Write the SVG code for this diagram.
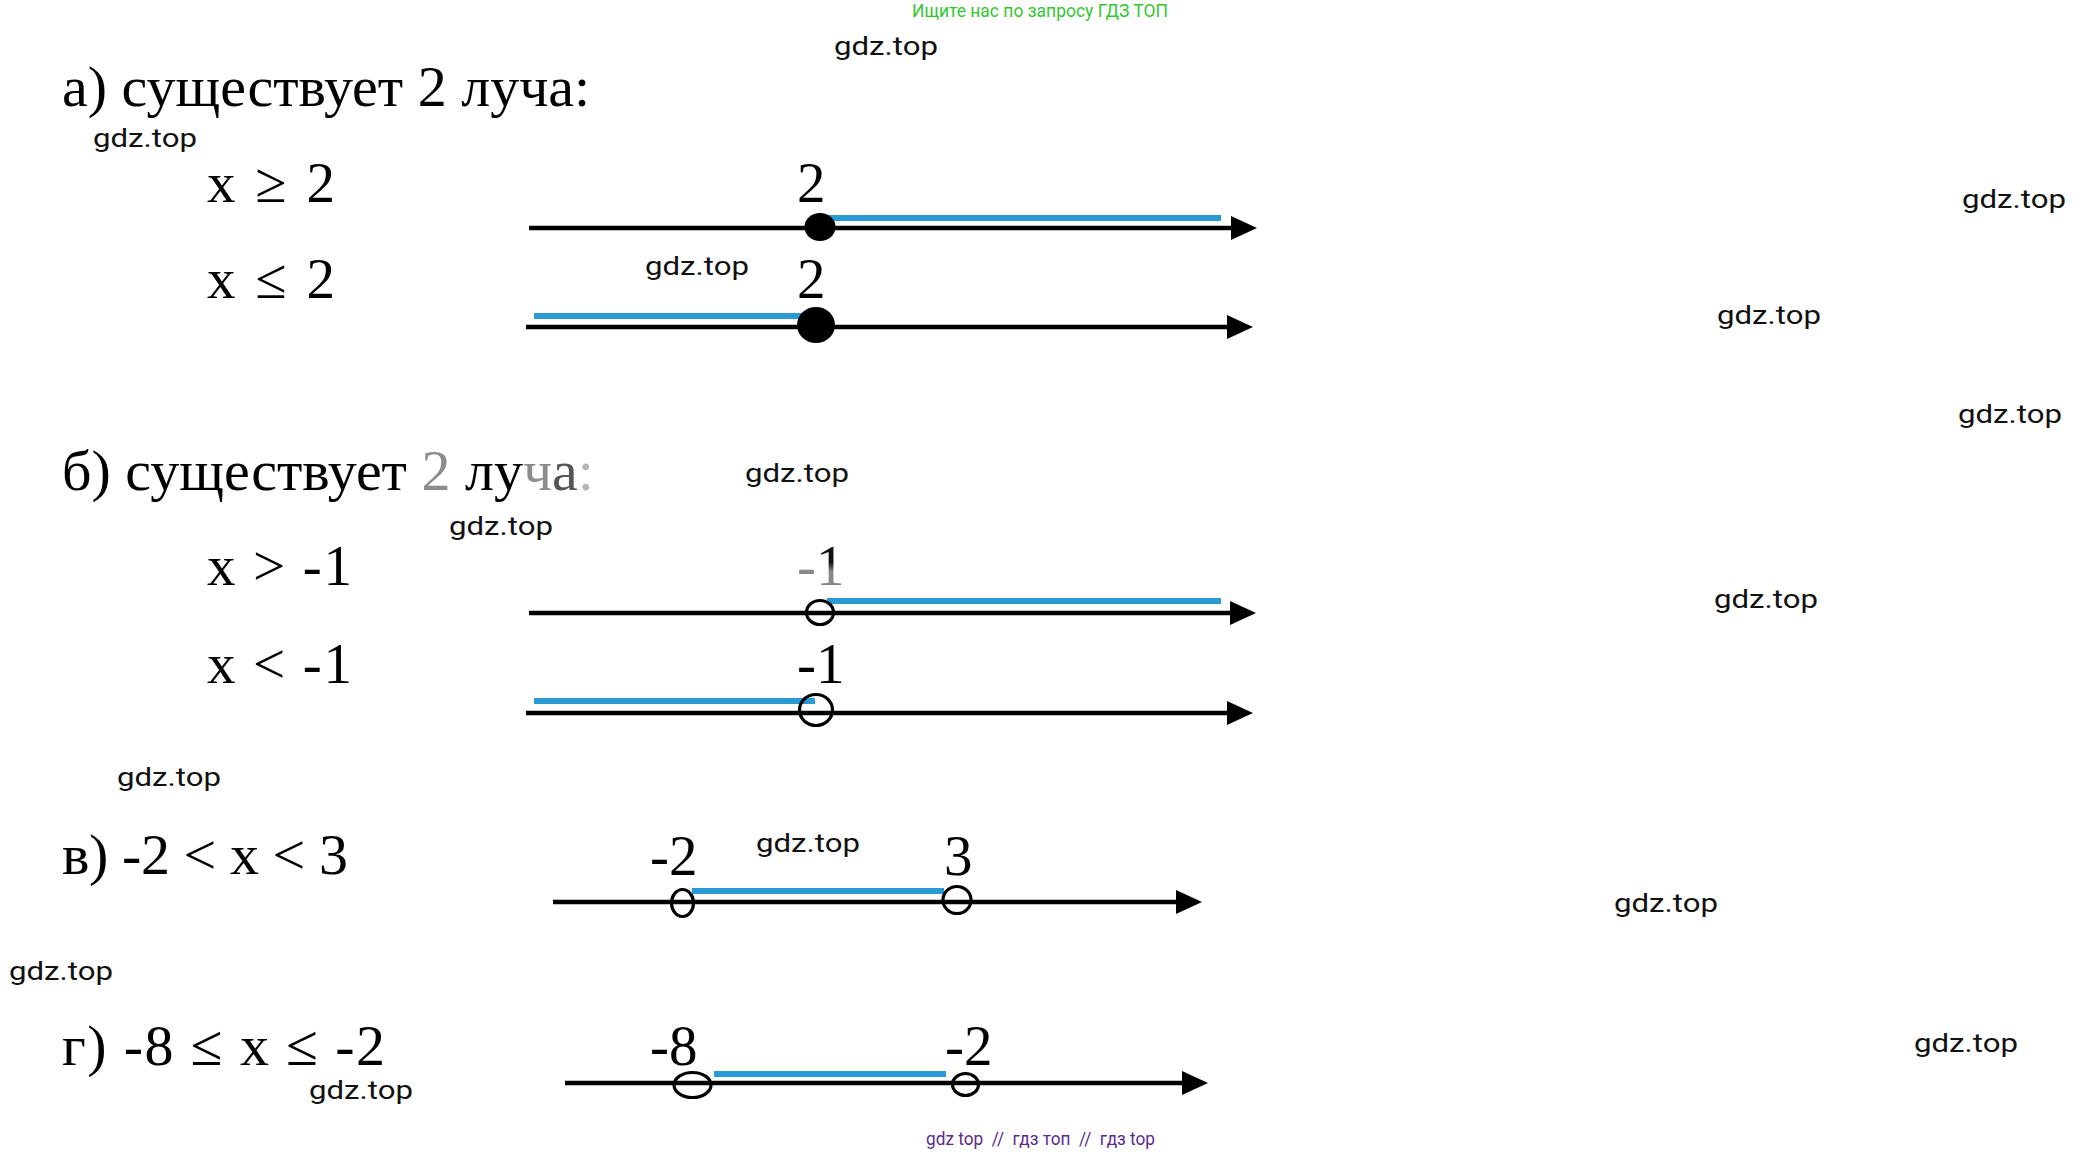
<svg xmlns="http://www.w3.org/2000/svg" width="2082" height="1155" viewBox="0 0 2082 1155">
<style>
.bg{fill:#ffffff}
.serif{font-family:"Liberation Serif","Times New Roman",serif;fill:#000}
.h{font-size:58px}
.eq{font-size:57px}
.wm{font-family:Roboto,"Liberation Sans",sans-serif;font-size:26px;fill:#111}
.axis{stroke:#000;stroke-width:4.5;fill:none}
.ray{stroke:#2a9ad4;stroke-width:6;fill:none}
.open{fill:none;stroke:#000;stroke-width:3.2}
.closed{fill:#000}
</style>
<defs>
<marker id="arrow" markerUnits="userSpaceOnUse" markerWidth="26" markerHeight="24" refX="0" refY="12" orient="auto" overflow="visible">
<path d="M0,0 L26,12 L0,24 Z" fill="#000"/>
</marker>
<linearGradient id="fade" x1="0" y1="0" x2="0" y2="1">
<stop offset="0.45" stop-color="#111"/>
<stop offset="0.6" stop-color="#8a8a8a"/>
</linearGradient>
</defs>
<rect class="bg" x="0" y="0" width="2082" height="1155"/>

<g id="header">
<text x="912" y="17" font-family="Roboto,'Liberation Sans',sans-serif" font-size="19" fill="#33c633" textLength="256" lengthAdjust="spacingAndGlyphs">Ищите нас по запросу ГДЗ ТОП</text>
</g>

<g id="section-a">
<text class="serif h" x="62" y="106">а) существует 2 луча:</text>
<text class="serif eq" x="207" y="202" textLength="128">x ≥ 2</text>
<text class="serif eq" x="207" y="298" textLength="128">x ≤ 2</text>
</g>

<g id="section-b">
<text class="serif h" x="62" y="490">б) существует <tspan fill="#8c8c8c">2</tspan> лу<tspan fill="#8c8c8c">ч</tspan><tspan fill="#555">а</tspan><tspan fill="#b5b5b5">:</tspan></text>
<text class="serif eq" x="207" y="585" textLength="145">x &gt; -1</text>
<text class="serif eq" x="207" y="683" textLength="145">x &lt; -1</text>
</g>

<g id="section-v">
<text class="serif h" x="62" y="874" textLength="286">в) -2 &lt; x &lt; 3</text>
</g>

<g id="section-g">
<text class="serif h" x="62" y="1065" textLength="323">г) -8 ≤ x ≤ -2</text>
</g>

<g id="connectors">
<line class="axis" x1="529" y1="228" x2="1231" y2="228" marker-end="url(#arrow)"/>
<line class="axis" x1="526" y1="327" x2="1227" y2="327" marker-end="url(#arrow)"/>
<line class="axis" x1="529" y1="613" x2="1230" y2="613" marker-end="url(#arrow)"/>
<line class="axis" x1="526" y1="713" x2="1227" y2="713" marker-end="url(#arrow)"/>
<line class="axis" x1="553" y1="902" x2="1176" y2="902" marker-end="url(#arrow)"/>
<line class="axis" x1="565" y1="1083" x2="1182" y2="1083" marker-end="url(#arrow)"/>
<line class="ray" x1="827" y1="218" x2="1221" y2="218"/>
<line class="ray" x1="534" y1="316" x2="815" y2="316"/>
<line class="ray" x1="827" y1="601" x2="1221" y2="601"/>
<line class="ray" x1="534" y1="701" x2="815" y2="701"/>
<line class="ray" x1="692" y1="891" x2="944" y2="891"/>
<line class="ray" x1="714" y1="1074" x2="946" y2="1074"/>
</g>

<g id="line-a1">
<ellipse class="closed" cx="820" cy="227" rx="15.5" ry="14"/>
<text class="serif eq" x="797" y="202">2</text>
</g>
<g id="line-a2">
<ellipse class="closed" cx="816" cy="325" rx="19" ry="18"/>
<text class="serif eq" x="797" y="298">2</text>
</g>
<g id="line-b1">
<ellipse class="open" cx="820" cy="612.5" rx="13.5" ry="12"/>
<text class="serif eq" x="797" y="585"><tspan fill="#8a8a8a">-</tspan><tspan fill="url(#fade)">1</tspan></text>
</g>
<g id="line-b2">
<ellipse class="open" cx="816" cy="710" rx="16.5" ry="15.5"/>
<text class="serif eq" x="797" y="683">-1</text>
</g>
<g id="line-v">
<ellipse class="open" cx="682.5" cy="903" rx="11" ry="13.5"/>
<ellipse class="open" cx="957" cy="900" rx="14" ry="13.5"/>
<text class="serif eq" x="650" y="875">-2</text>
<text class="serif eq" x="944" y="875">3</text>
</g>
<g id="line-g">
<ellipse class="open" cx="692.5" cy="1085" rx="18.5" ry="12.5"/>
<ellipse class="open" cx="965.5" cy="1084.5" rx="13" ry="11"/>
<text class="serif eq" x="650" y="1065">-8</text>
<text class="serif eq" x="945" y="1065">-2</text>
</g>

<g id="watermarks">
<text class="wm" x="834" y="55" textLength="104" lengthAdjust="spacingAndGlyphs">gdz.top</text>
<text class="wm" x="93" y="147" textLength="104" lengthAdjust="spacingAndGlyphs">gdz.top</text>
<text class="wm" x="1962" y="208" textLength="104" lengthAdjust="spacingAndGlyphs">gdz.top</text>
<text class="wm" x="645" y="275" textLength="104" lengthAdjust="spacingAndGlyphs">gdz.top</text>
<text class="wm" x="1717" y="324" textLength="104" lengthAdjust="spacingAndGlyphs">gdz.top</text>
<text class="wm" x="1958" y="423" textLength="104" lengthAdjust="spacingAndGlyphs">gdz.top</text>
<text class="wm" x="745" y="482" textLength="104" lengthAdjust="spacingAndGlyphs">gdz.top</text>
<text class="wm" x="449" y="535" textLength="104" lengthAdjust="spacingAndGlyphs">gdz.top</text>
<text class="wm" x="1714" y="608" textLength="104" lengthAdjust="spacingAndGlyphs">gdz.top</text>
<text class="wm" x="117" y="786" textLength="104" lengthAdjust="spacingAndGlyphs">gdz.top</text>
<text class="wm" x="756" y="852" textLength="104" lengthAdjust="spacingAndGlyphs">gdz.top</text>
<text class="wm" x="1614" y="912" textLength="104" lengthAdjust="spacingAndGlyphs">gdz.top</text>
<text class="wm" x="9" y="980" textLength="104" lengthAdjust="spacingAndGlyphs">gdz.top</text>
<text class="wm" x="1914" y="1052" textLength="104" lengthAdjust="spacingAndGlyphs">gdz.top</text>
<text class="wm" x="309" y="1099" textLength="104" lengthAdjust="spacingAndGlyphs">gdz.top</text>
</g>

<g id="footer">
<text x="926" y="1145" font-family="Roboto,'Liberation Sans',sans-serif" font-size="19" fill="#5a2b8f" textLength="229" lengthAdjust="spacingAndGlyphs" xml:space="preserve">gdz top  //  гдз топ  //  гдз top</text>
</g>
</svg>
